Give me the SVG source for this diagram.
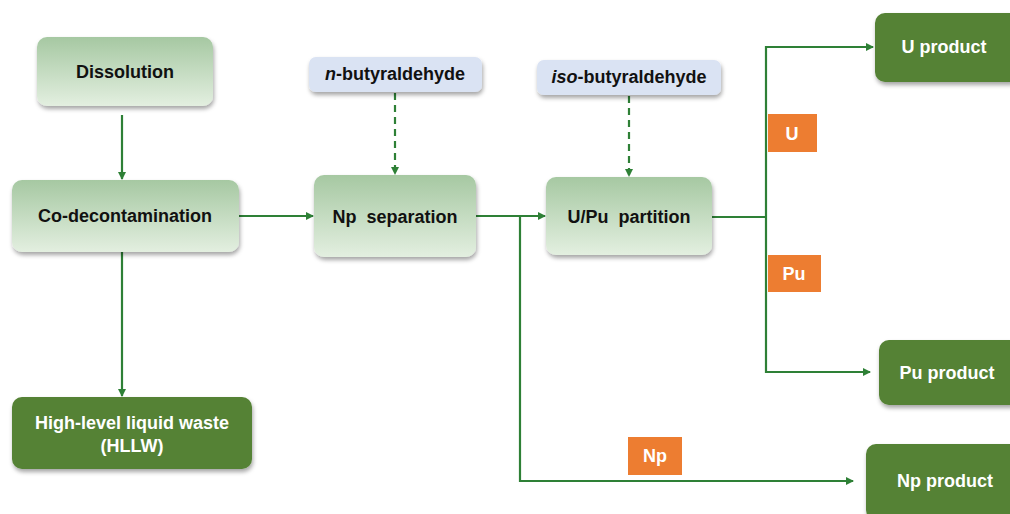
<svg xmlns="http://www.w3.org/2000/svg" width="1010" height="514" viewBox="0 0 1010 514">
<style>
.t{font-family:"Liberation Sans",Arial,sans-serif;font-weight:bold;font-size:18px;text-anchor:middle;fill:#111;white-space:pre}
.w{fill:#fff}
.proc{fill:url(#g);filter:url(#sh)}
.prod{fill:#548235;filter:url(#sh)}
.reag{fill:#dae3f3;filter:url(#sh)}
.lab{fill:#ed7d31}
.ln{fill:none;stroke:#2e8036;stroke-width:2.2}
.ds{stroke-dasharray:7,5}
</style>
<defs>
<linearGradient id="g" x1="0" y1="0" x2="0" y2="1">
<stop offset="0" stop-color="#a6c8a2"/>
<stop offset="1" stop-color="#e3efe0"/>
</linearGradient>
<filter id="sh" x="-10%" y="-10%" width="130%" height="140%">
<feDropShadow dx="1" dy="3" stdDeviation="2" flood-color="#000" flood-opacity="0.35"/>
</filter>
<marker id="a" markerWidth="8" markerHeight="8" refX="7" refY="4" orient="auto" markerUnits="userSpaceOnUse">
<path d="M0,0 L8,4 L0,8 z" fill="#2e8036"/>
</marker>
</defs>
<g id="connectors">
<line class="ln" x1="122" y1="115" x2="122" y2="179" marker-end="url(#a)"/>
<line class="ln" x1="122" y1="252" x2="122" y2="396" marker-end="url(#a)"/>
<line class="ln" x1="239" y1="216" x2="313" y2="216" marker-end="url(#a)"/>
<line class="ln" x1="476" y1="216" x2="545" y2="216" marker-end="url(#a)"/>
<polyline class="ln" points="520,216 520,481 853,481" marker-end="url(#a)"/>
<line class="ln ds" x1="395" y1="93" x2="395" y2="174" marker-end="url(#a)"/>
<line class="ln ds" x1="629" y1="96" x2="629" y2="176" marker-end="url(#a)"/>
<line class="ln" x1="712" y1="217" x2="766" y2="217"/>
<polyline class="ln" points="766,217 766,47 873,47" marker-end="url(#a)"/>
<polyline class="ln" points="766,217 766,372 870,372" marker-end="url(#a)"/>
</g>
<g id="dissolution"><rect class="proc" x="37" y="37" width="176" height="69" rx="10"/><text class="t" x="125" y="78">Dissolution</text></g>
<g id="codecon"><rect class="proc" x="12" y="180" width="227" height="72" rx="10"/><text class="t" x="125" y="222">Co-decontamination</text></g>
<g id="hllw"><rect class="prod" x="12" y="397" width="240" height="72" rx="10"/><text class="t w" x="132" y="429">High-level liquid waste</text><text class="t w" x="132" y="452">(HLLW)</text></g>
<g id="nbut"><rect class="reag" x="309" y="57" width="173" height="35" rx="7"/><text class="t" x="395" y="80"><tspan font-style="italic">n</tspan>-butyraldehyde</text></g>
<g id="npsep"><rect class="proc" x="314" y="175" width="162" height="82" rx="10"/><text class="t" x="395" y="223">Np  separation</text></g>
<g id="isobut"><rect class="reag" x="537" y="60" width="184" height="35" rx="7"/><text class="t" x="629" y="83"><tspan font-style="italic">iso</tspan>-butyraldehyde</text></g>
<g id="upu"><rect class="proc" x="546" y="177" width="166" height="78" rx="10"/><text class="t" x="629" y="223">U/Pu  partition</text></g>
<g id="uprod"><rect class="prod" x="875" y="13" width="145" height="69" rx="10"/><text class="t w" x="944" y="53">U product</text></g>
<g id="puprod"><rect class="prod" x="879" y="340" width="141" height="65" rx="10"/><text class="t w" x="947" y="379">Pu product</text></g>
<g id="npprod"><rect class="prod" x="866" y="444" width="154" height="76" rx="10"/><text class="t w" x="945" y="487">Np product</text></g>
<g id="lblU"><rect class="lab" x="768" y="114" width="49" height="38"/><text class="t w" x="792" y="140">U</text></g>
<g id="lblPu"><rect class="lab" x="768" y="255" width="53" height="37"/><text class="t w" x="794" y="280">Pu</text></g>
<g id="lblNp"><rect class="lab" x="628" y="437" width="54" height="38"/><text class="t w" x="655" y="462">Np</text></g>
</svg>
